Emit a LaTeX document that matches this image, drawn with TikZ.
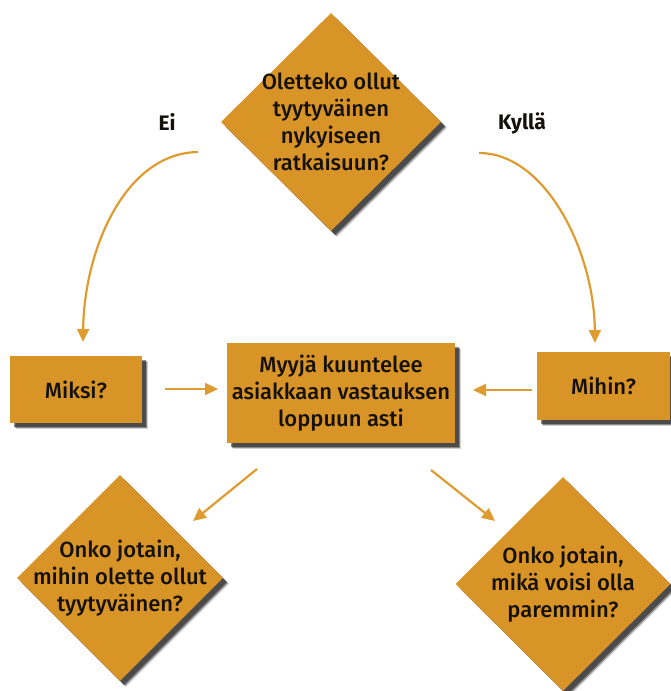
\documentclass[tikz,border=0pt]{standalone}
\usepackage{fontspec}
\setmainfont{Fira Sans}[UprightFont=* Medium, BoldFont=* Bold]
\usetikzlibrary{shapes.geometric,shadows,arrows.meta}
\definecolor{gold}{RGB}{217,148,40}
\definecolor{arr}{RGB}{222,156,48}
\definecolor{ink}{RGB}{20,16,10}
\tikzset{
  myshadow/.style={
    drop shadow={shadow xshift=6pt, shadow yshift=-6pt, fill=black, opacity=0.18},
    drop shadow={shadow xshift=5pt, shadow yshift=-5pt, fill=black, opacity=0.35},
    drop shadow={shadow xshift=4pt, shadow yshift=-4pt, fill=black, opacity=0.45}},
  txt/.style={font=\fontsize{22}{27}\selectfont, text=ink, align=center},
  decision/.style={diamond, fill=gold, inner sep=-40pt, myshadow, txt},
  stepbox/.style={rectangle, fill=gold, inner sep=0pt, myshadow, txt},
  lab/.style={font=\bfseries\fontsize{21}{25}\selectfont, text=ink},
  conn/.style={draw=arr, line width=2.2pt, -{Triangle[length=13pt,width=12pt]}}
}
\begin{document}
\begin{tikzpicture}[x=1pt,y=-1pt]
\useasboundingbox (0,0) rectangle (671,691);
% nodes
\node[decision, minimum width=220pt, minimum height=218pt] (top) at (331,122)
  {Oletteko ollut\\tyytyväinen\\nykyiseen\\ratkaisuun?};
\node[lab] (ei) at (167,122) {Ei};
\node[lab] (kylla) at (522,123) {Kyllä};
\node[stepbox, minimum width=132pt, minimum height=67pt] (miksi) at (76,389.5) {Miksi?};
\node[stepbox, minimum width=228pt, minimum height=100pt] (center) at (341,393)
  {Myyjä kuuntelee\\asiakkaan vastauksen\\loppuun asti};
\node[stepbox, minimum width=133pt, minimum height=68pt] (mihin) at (603.5,386) {Mihin?};
\node[decision, minimum width=206pt, minimum height=206pt] (bl) at (120,578)
  {Onko jotain,\\mihin olette ollut\\tyytyväinen?};
\node[decision, minimum width=215pt, minimum height=214pt] (br) at (563,584)
  {Onko jotain,\\mikä voisi olla\\paremmin?};
% connector ends
\coordinate (eiS) at (198,152);
\coordinate (eiE) at (83,342);
\coordinate (kyS) at (479,153);
\coordinate (kyE) at (595,343);
\coordinate (mkS) at (165,389);
\coordinate (mkE) at (218,389);
\coordinate (mhS) at (532,390);
\coordinate (mhE) at (473,390);
\coordinate (blS) at (257,469);
\coordinate (blE) at (193,521);
\coordinate (brS) at (431,470);
\coordinate (brE) at (495,521);
% connectors
\draw[conn] (eiS) .. controls (125,153) and (84,250) .. (eiE);
\draw[conn] (kyS) .. controls (545,153) and (594,250) .. (kyE);
\draw[conn] (mkS) -- (mkE);
\draw[conn] (mhS) -- (mhE);
\draw[conn] (blS) -- (blE);
\draw[conn] (brS) -- (brE);
\end{tikzpicture}
\end{document}
